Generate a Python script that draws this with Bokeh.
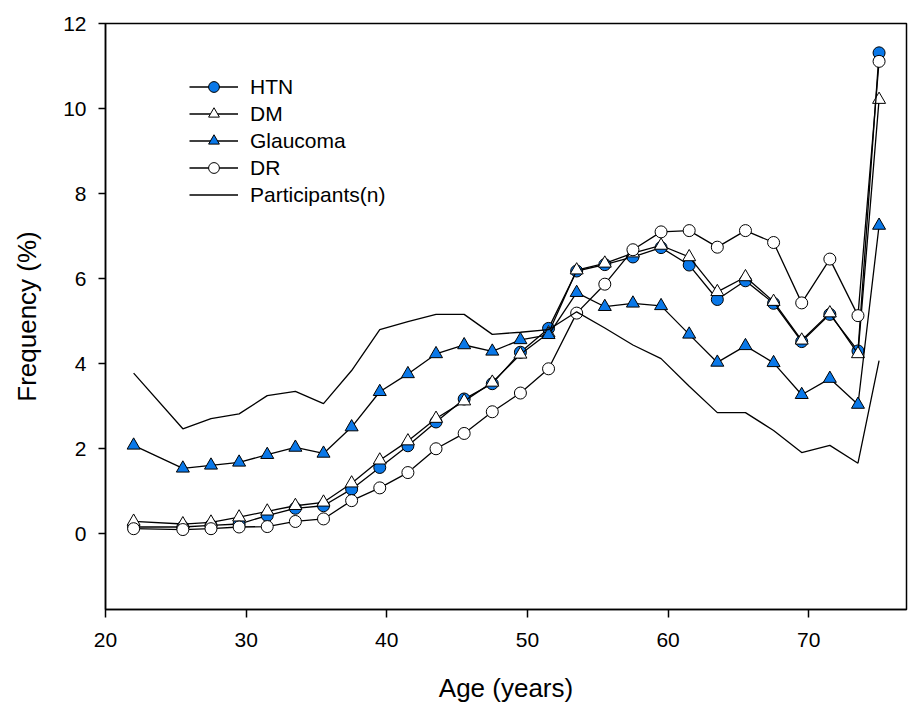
from bokeh.plotting import figure
from bokeh.models import Range1d, FixedTicker, Legend, LegendItem
from bokeh.embed import file_html
from bokeh.resources import INLINE

age = [22, 25.5, 27.5, 29.5, 31.5, 33.5, 35.5, 37.5, 39.5, 41.5, 43.5, 45.5, 47.5,
       49.5, 51.5, 53.5, 55.5, 57.5, 59.5, 61.5, 63.5, 65.5, 67.5, 69.5, 71.5, 73.5, 75]
htn = [0.16, 0.16, 0.20, 0.23, 0.43, 0.60, 0.66, 1.05, 1.56, 2.07, 2.63, 3.17, 3.53,
       4.27, 4.83, 6.18, 6.33, 6.51, 6.73, 6.32, 5.51, 5.95, 5.42, 4.52, 5.16, 4.30, 11.31]
dm = [0.29, 0.23, 0.27, 0.39, 0.53, 0.66, 0.74, 1.19, 1.73, 2.18, 2.71, 3.12, 3.56,
      4.22, 4.72, 6.20, 6.36, 6.60, 6.78, 6.51, 5.69, 6.04, 5.46, 4.55, 5.19, 4.23, 10.21]
glaucoma = [2.08, 1.54, 1.61, 1.68, 1.86, 2.03, 1.89, 2.51, 3.34, 3.76, 4.23, 4.44, 4.29,
            4.56, 4.68, 5.67, 5.34, 5.42, 5.36, 4.69, 4.03, 4.42, 4.02, 3.27, 3.65, 3.04, 7.25]
dr = [0.12, 0.10, 0.12, 0.16, 0.17, 0.29, 0.35, 0.78, 1.08, 1.44, 2.00, 2.36, 2.87,
      3.31, 3.88, 5.19, 5.87, 6.68, 7.10, 7.13, 6.74, 7.13, 6.85, 5.43, 6.46, 5.13, 11.11]
participants = [3.78, 2.47, 2.71, 2.82, 3.25, 3.35, 3.06, 3.84, 4.80, 4.99, 5.16, 5.16, 4.69,
                4.74, 4.80, 5.22, 4.84, 4.44, 4.12, 3.47, 2.85, 2.85, 2.43, 1.91, 2.08, 1.66, 4.07]

x_ticks = [20, 30, 40, 50, 60, 70]
y_ticks = [0, 2, 4, 6, 8, 10, 12]

BLUE = "#0A78E8"
FONT = "Liberation Sans"

p = figure(width=908, height=705, output_backend="svg", toolbar_location=None,
           x_range=Range1d(20, 76.95), y_range=Range1d(-1.78, 12.0),
           min_border_left=105, min_border_top=23, min_border_bottom=94, min_border_right=2)
p.grid.visible = False
p.outline_line_color = "black"
p.outline_line_width = 1.5

for ax in (p.xaxis[0], p.yaxis[0]):
    ax.axis_line_width = 1.5
    ax.major_tick_line_width = 1.5
    ax.minor_tick_line_color = None
    ax.major_tick_in = 0
    ax.major_label_text_font = FONT
    ax.major_label_text_font_size = "21px"
    ax.major_label_text_color = "black"
    ax.axis_label_text_font = FONT
    ax.axis_label_text_font_size = "26px"
    ax.axis_label_text_font_style = "normal"
    ax.axis_label_text_color = "black"

p.xaxis.ticker = FixedTicker(ticks=x_ticks)
p.yaxis.ticker = FixedTicker(ticks=y_ticks)
p.xaxis.major_tick_out = 8
p.yaxis.major_tick_out = 7
p.xaxis.major_label_standoff = 15
p.yaxis.major_label_standoff = 12
p.xaxis.axis_label = "Age (years)"
p.yaxis.axis_label = "Frequency (%)"
p.xaxis.axis_label_standoff = 23
p.yaxis.axis_label_standoff = 18

items = []
series = [
    ("HTN", htn, "circle", BLUE, 12),
    ("DM", dm, "triangle", "white", 13),
    ("Glaucoma", glaucoma, "triangle", BLUE, 13),
    ("DR", dr, "circle", "white", 12),
]
for name, vals, marker, fill, size in series:
    lr = p.line(age, vals, line_color="black", line_width=1.3)
    sr = p.scatter(age, vals, marker=marker, size=size, fill_color=fill,
                   line_color="black", line_width=1)
    items.append(LegendItem(label=name, renderers=[lr, sr]))

pr = p.line(age, participants, line_color="black", line_width=1.3)
items.append(LegendItem(label="Participants(n)", renderers=[pr]))

legend = Legend(items=items, location=(84, 401), orientation="vertical",
                glyph_width=49, glyph_height=27, label_height=27, spacing=0,
                padding=0, margin=0, label_standoff=12,
                label_text_font=FONT, label_text_font_size="21px",
                label_text_color="black",
                background_fill_alpha=0, border_line_color=None)
p.add_layout(legend, "center")

open("out.html", "w").write(file_html(p, INLINE))
